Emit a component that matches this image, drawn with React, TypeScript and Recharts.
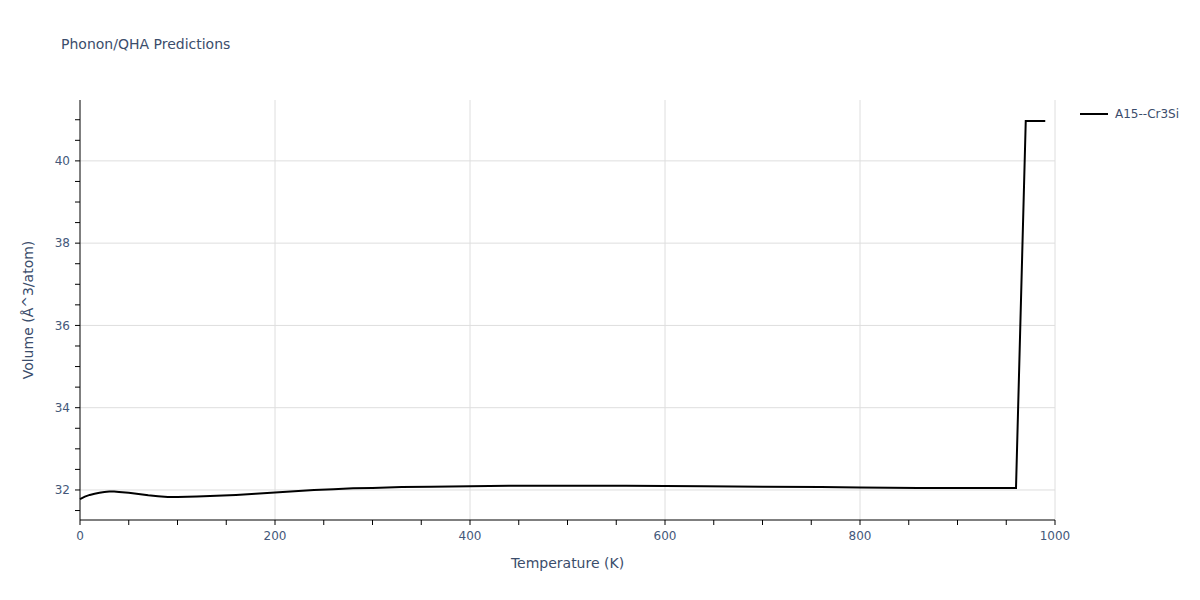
import React from 'react';
import {
  LineChart,
  Line,
  XAxis,
  YAxis,
  ReferenceLine
} from 'recharts';

const temperatures = [
  0, 5, 10, 15, 20, 25, 30, 35, 40, 50, 60, 70, 80, 90, 100, 120, 140, 160, 180, 200,
  220, 240, 260, 280, 300, 330, 360, 400, 440, 500, 560, 640, 700, 760, 800, 860, 920,
  960, 970, 990
];
const volumes = [
  31.78, 31.84, 31.88, 31.91, 31.93, 31.95, 31.96, 31.96, 31.95, 31.93, 31.9, 31.87,
  31.85, 31.83, 31.83, 31.84, 31.86, 31.88, 31.91, 31.94, 31.97, 32.0, 32.02, 32.04,
  32.05, 32.07, 32.08, 32.09, 32.1, 32.1, 32.1, 32.09, 32.08, 32.07, 32.06, 32.05,
  32.05, 32.05, 40.97, 40.97
];
const seriesName = 'A15--Cr3Si';

const xMajor = [0, 200, 400, 600, 800, 1000];
const xMinor = Array.from({ length: 21 }, (_, i) => i * 50);
const yMajor = [32, 34, 36, 38, 40];
const yMinor = [31.5, 32, 32.5, 33, 33.5, 34, 34.5, 35, 35.5, 36, 36.5, 37, 37.5, 38, 38.5, 39, 39.5, 40, 40.5, 41];

const data = temperatures.map((t, i) => ({ t, v: volumes[i] }));

const TEXT = '#3b4d6b';
const TICK = '#44587a';
const GRID = '#dedede';
const FONT = '"DejaVu Sans", Verdana, sans-serif';

const XTick = (props: any) => {
  const { x, y, payload } = props;
  if (!xMajor.includes(payload.value)) return null;
  return (
    <text x={x} y={y} dy="0.71em" textAnchor="middle" fill={TICK} fontSize={12} fontFamily={FONT}>
      {payload.value}
    </text>
  );
};

const YTick = (props: any) => {
  const { x, y, payload } = props;
  if (!yMajor.includes(payload.value)) return null;
  return (
    <text x={x} y={y} dy="0.35em" textAnchor="end" fill={TICK} fontSize={12} fontFamily={FONT}>
      {payload.value}
    </text>
  );
};

const YLabel = (props: any) => {
  const { viewBox } = props;
  const cx = viewBox.x + 28;
  const cy = viewBox.y + viewBox.height / 2;
  return (
    <text
      x={cx}
      y={cy}
      textAnchor="middle"
      dominantBaseline="central"
      transform={`rotate(-90, ${cx}, ${cy})`}
      fill={TEXT}
      fontSize={14}
      fontFamily={FONT}
    >
      Volume (Å^3/atom)
    </text>
  );
};

export default function App() {
  return (
    <div style={{ position: 'absolute', left: 0, top: 0, width: 1200, height: 600, background: '#fff' }}>
      <div
        style={{
          position: 'absolute',
          left: 61,
          top: 36,
          fontSize: 14,
          fontFamily: FONT,
          color: TEXT,
          whiteSpace: 'nowrap'
        }}
      >
        Phonon/QHA Predictions
      </div>
      <div style={{ position: 'absolute', left: 1080, top: 104, width: 120, height: 20 }}>
        <svg width={120} height={20}>
          <line x1={0} y1={10} x2={28} y2={10} stroke="#000" strokeWidth={2} />
          <text x={35} y={10} dy="0.35em" fill={TEXT} fontSize={12} fontFamily={FONT}>
            {seriesName}
          </text>
        </svg>
      </div>
      <LineChart width={1200} height={600} data={data} margin={{ top: 100, right: 145, bottom: 0, left: 0 }}>
        {xMajor.slice(1).map((v) => (
          <ReferenceLine key={'x' + v} x={v} stroke={GRID} strokeWidth={1} />
        ))}
        {yMajor.map((v) => (
          <ReferenceLine key={'y' + v} y={v} stroke={GRID} strokeWidth={1} />
        ))}
        <XAxis
          dataKey="t"
          type="number"
          domain={[0, 1000]}
          ticks={xMinor}
          interval={0}
          height={80}
          tick={<XTick />}
          tickSize={5}
          tickMargin={6}
          axisLine={{ stroke: '#000', strokeWidth: 1 }}
          tickLine={{ stroke: '#000' }}
          label={{ value: 'Temperature (K)', position: 'insideBottom', offset: 32, fill: TEXT, fontSize: 14, fontFamily: FONT }}
        />
        <YAxis
          type="number"
          domain={[31.27, 41.48]}
          ticks={yMinor}
          interval={0}
          width={80}
          tick={<YTick />}
          tickSize={5}
          tickMargin={5}
          allowDataOverflow
          axisLine={{ stroke: '#000', strokeWidth: 1 }}
          tickLine={{ stroke: '#000' }}
          label={<YLabel />}
        />
        <Line
          type="linear"
          dataKey="v"
          name={seriesName}
          stroke="#000"
          strokeWidth={2}
          dot={false}
          isAnimationActive={false}
        />
      </LineChart>
    </div>
  );
}
